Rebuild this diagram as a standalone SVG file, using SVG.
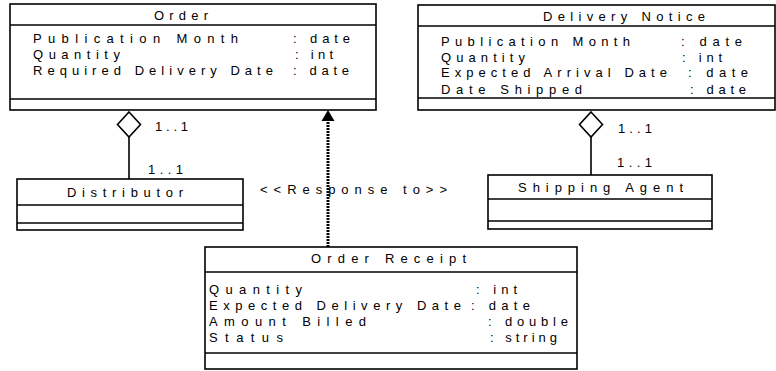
<svg xmlns="http://www.w3.org/2000/svg" width="776" height="371" viewBox="0 0 776 371">
<style>
  .box { fill: #ffffff; stroke: #000000; stroke-width: 1.6; }
  .sep { stroke: #000000; stroke-width: 1.6; }
  .t { font-family: "Liberation Sans", Arial, sans-serif; font-size: 13px; fill: #000000; }
  .conn { stroke: #000000; stroke-width: 1.6; fill: none; }
  .dia { fill: #ffffff; stroke: #000000; stroke-width: 1.6; }
  .dep { stroke: #000000; stroke-width: 3; stroke-dasharray: 2 1; fill: none; }
</style>
<rect x="0" y="0" width="776" height="371" fill="#ffffff"/>

<g id="connectors">
  <line class="conn" x1="129" y1="137" x2="129" y2="179"/>
  <path class="dia" d="M129,112 L140.5,124.5 L129,137 L117.5,124.5 Z"/>
  <text class="t" x="155" y="131" textLength="33" lengthAdjust="spacing">1..1</text>
  <text class="t" x="148" y="174" textLength="35" lengthAdjust="spacing">1..1</text>

  <line class="conn" x1="591" y1="137" x2="591" y2="175"/>
  <path class="dia" d="M591,112 L602.5,124.5 L591,137 L579.5,124.5 Z"/>
  <text class="t" x="618" y="133" textLength="34" lengthAdjust="spacing">1..1</text>
  <text class="t" x="617" y="167" textLength="35" lengthAdjust="spacing">1..1</text>

  <line class="dep" x1="328" y1="247" x2="328" y2="119"/>
  <polygon points="328,110 321.5,121 334.5,121" fill="#000000"/>
  <text class="t" x="260" y="194" textLength="187" lengthAdjust="spacing">&lt;&lt;Response to&gt;&gt;</text>
</g>

<g id="node-order">
  <rect class="box" x="10" y="4" width="366" height="106"/>
  <line class="sep" x1="10" y1="25" x2="376" y2="25"/>
  <line class="sep" x1="10" y1="99" x2="376" y2="99"/>
  <text class="t" x="154" y="20" textLength="54" lengthAdjust="spacing">Order</text>
  <text class="t" x="33" y="43" textLength="205" lengthAdjust="spacing">Publication Month</text>
  <text class="t" x="33" y="59" textLength="87" lengthAdjust="spacing">Quantity</text>
  <text class="t" x="33" y="75" textLength="240" lengthAdjust="spacing">Required Delivery Date</text>
  <text class="t" x="293" y="43" textLength="57" lengthAdjust="spacing">: date</text>
  <text class="t" x="295" y="59" textLength="38" lengthAdjust="spacing">: int</text>
  <text class="t" x="293" y="75" textLength="56" lengthAdjust="spacing">: date</text>
</g>

<g id="node-delivery-notice">
  <rect class="box" x="418" y="5" width="357" height="105"/>
  <line class="sep" x1="418" y1="26" x2="775" y2="26"/>
  <line class="sep" x1="418" y1="98" x2="775" y2="98"/>
  <text class="t" x="543" y="21" textLength="162" lengthAdjust="spacing">Delivery Notice</text>
  <text class="t" x="441" y="46" textLength="189" lengthAdjust="spacing">Publication Month</text>
  <text class="t" x="441" y="62" textLength="84" lengthAdjust="spacing">Quantity</text>
  <text class="t" x="441" y="77" textLength="226" lengthAdjust="spacing">Expected Arrival Date</text>
  <text class="t" x="441" y="94" textLength="141" lengthAdjust="spacing">Date Shipped</text>
  <text class="t" x="681" y="46" textLength="61" lengthAdjust="spacing">: date</text>
  <text class="t" x="682" y="62" textLength="40" lengthAdjust="spacing">: int</text>
  <text class="t" x="688" y="77" textLength="60" lengthAdjust="spacing">: date</text>
  <text class="t" x="690" y="94" textLength="56" lengthAdjust="spacing">: date</text>
</g>

<g id="node-distributor">
  <rect class="box" x="17" y="179" width="226" height="51"/>
  <line class="sep" x1="17" y1="205" x2="243" y2="205"/>
  <line class="sep" x1="17" y1="223" x2="243" y2="223"/>
  <text class="t" x="67" y="197" textLength="116" lengthAdjust="spacing">Distributor</text>
</g>

<g id="node-shipping-agent">
  <rect class="box" x="488" y="175" width="224" height="54"/>
  <line class="sep" x1="488" y1="199" x2="712" y2="199"/>
  <line class="sep" x1="488" y1="221" x2="712" y2="221"/>
  <text class="t" x="518" y="192" textLength="165" lengthAdjust="spacing">Shipping Agent</text>
</g>

<g id="node-order-receipt">
  <rect class="box" x="205" y="247" width="372" height="122"/>
  <line class="sep" x1="205" y1="272" x2="577" y2="272"/>
  <line class="sep" x1="205" y1="353" x2="577" y2="353"/>
  <text class="t" x="311" y="263" textLength="155" lengthAdjust="spacing">Order Receipt</text>
  <text class="t" x="209" y="294" textLength="93" lengthAdjust="spacing">Quantity</text>
  <text class="t" x="209" y="310" textLength="252" lengthAdjust="spacing">Expected Delivery Date</text>
  <text class="t" x="209" y="326" textLength="157" lengthAdjust="spacing">Amount Billed</text>
  <text class="t" x="209" y="342" textLength="74" lengthAdjust="spacing">Status</text>
  <text class="t" x="476" y="294" textLength="41" lengthAdjust="spacing">: int</text>
  <text class="t" x="471" y="310" textLength="59" lengthAdjust="spacing">: date</text>
  <text class="t" x="488" y="326" textLength="80" lengthAdjust="spacing">: double</text>
  <text class="t" x="490" y="342" textLength="67" lengthAdjust="spacing">: string</text>
</g>
</svg>
